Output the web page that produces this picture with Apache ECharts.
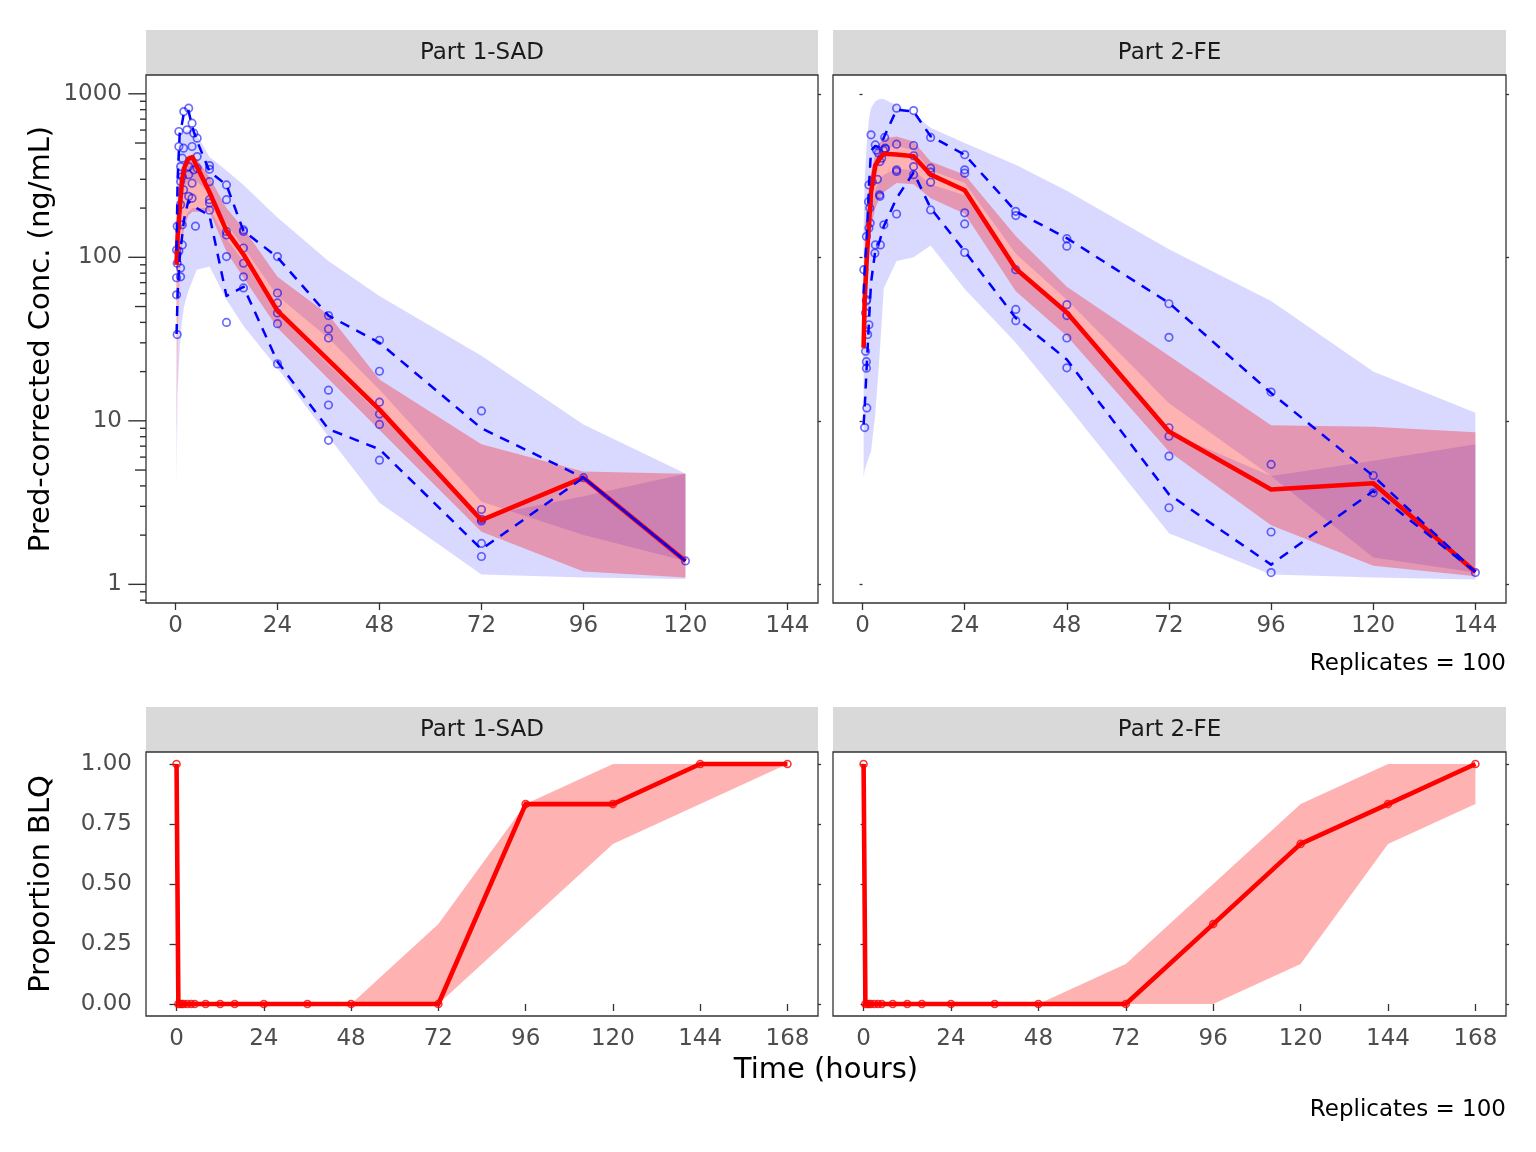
<!DOCTYPE html>
<html><head><meta charset="utf-8">
<script src="https://cdn.jsdelivr.net/npm/echarts@6/dist/echarts.min.js"></script>
<style>html,body{margin:0;padding:0;background:#fff}#c{width:1536px;height:1152px}</style>
</head><body><div id="c"></div>
<script>
// ---------------- data ----------------
const panelNames = ['Part 1-SAD', 'Part 2-FE'];
const xTopTicks = [0, 24, 48, 72, 96, 120, 144];
const xBotTicks = [0, 24, 48, 72, 96, 120, 144, 168];
const yTopLabels = [1, 10, 100, 1000];
const yTopLogTicks = [0.8, 0.9, 1, 2, 3, 4, 5, 6, 7, 8, 9, 10, 20, 30, 40, 50, 60, 70, 80, 90, 100, 200, 300, 400, 500, 600, 700, 800, 900, 1000];
const yBotTicks = [0, 0.25, 0.5, 0.75, 1];

// Part 1-SAD simulated CI bands and observed percentiles
const sadBinT  = [0.25, 0.5, 1, 1.5, 2, 3, 4, 5, 8, 12, 16, 24, 36, 48, 72, 96, 120];
const sadLo5   = [4, 15, 28, 40, 50, 62, 72, 84, 88, 55, 38, 21, 8, 3.15, 1.15, 1.1, 1.08];
const sadHi5   = [10, 40, 90, 140, 170, 190, 200, 200, 200, 130, 95, 45, 22, 11, 2.6, 3.46, 4.75];
const sadLo50  = [8, 35, 80, 120, 150, 180, 190, 190, 190, 108, 75, 37, 18, 8.8, 2.1, 1.2, 1.1];
const sadHi50  = [90, 170, 260, 330, 380, 420, 420, 400, 310, 200, 150, 76, 44.6, 17.9, 7.2, 4.9, 4.75];
const sadLo95  = [40, 90, 150, 210, 260, 300, 310, 290, 250, 160, 115, 58, 32, 15.5, 3.2, 2.0, 1.39];
const sadHi95  = [250, 450, 520, 560, 580, 600, 590, 560, 410, 340, 277, 175, 95, 58, 25, 9.5, 4.77];
const sadObs5  = [34, 60, 100, 130, 170, 220, 210, 200, 180, 58, 66, 23, 8.9, 6.7, 1.64, 4.49, 1.39];
const sadObs50 = [90, 135, 200, 290, 350, 400, 410, 360, 250, 145, 104, 47, 23.5, 11.7, 2.47, 4.49, 1.39];
const sadObs95 = [110, 300, 580, 650, 770, 800, 620, 520, 335, 277, 145, 100, 44, 30, 9, 4.49, 1.39];
const sadPtT = [0.25, 0.25, 0.25, 0.4, 0.4, 0.4, 0.8, 0.8, 0.8, 1.2, 1.2, 1.2, 1.2, 1.2, 1.6, 1.6, 1.6, 1.6, 1.9, 1.9, 1.95, 2.7, 3.1, 3.1, 3.1, 3.1, 3.9, 3.9, 3.9, 3.9, 4.3, 4.3, 4.7, 5.1, 5.1, 5.1,
  8, 8, 8, 8, 8, 8, 12, 12, 12, 12, 12, 12, 16, 16, 16, 16, 16, 16, 24, 24, 24, 24, 24, 24, 36, 36, 36, 36, 36, 36,
  48, 48, 48, 48, 48, 48, 72, 72, 72, 72, 72, 72, 96, 120];
const sadPtC = [111, 75, 59, 155, 92, 33.7, 588, 476, 109, 359, 291, 210, 86, 76, 404, 312, 158, 119, 465, 259, 778, 602, 817, 359, 320, 236, 661, 476, 284, 230, 574, 343, 155, 535, 413, 351,
  364, 345, 290, 225, 215, 194, 277, 225, 144, 137, 101, 40, 147, 144, 114, 92, 76, 65, 101, 60.5, 52.6, 45.7, 39.3, 22.3, 44, 36.5, 32.1, 15.4, 12.5, 7.6,
  31.1, 20.1, 13, 11, 9.5, 5.75, 11.5, 2.87, 2.5, 2.44, 1.78, 1.48, 4.49, 1.39];

// Part 2-FE
const feBinT  = [0.25, 0.5, 1, 1.5, 2, 3, 4, 5, 8, 12, 16, 24, 36, 48, 72, 96, 120, 144];
const feLo5   = [4.5, 5, 5.5, 6, 6.5, 11, 25, 65, 95, 100, 118, 64, 30, 12.5, 2.05, 1.15, 1.1, 1.07];
const feHi5   = [24, 45, 85, 140, 190, 260, 300, 320, 350, 340, 280, 240, 85, 46, 8.5, 4.6, 5.7, 7.2];
const feLo50  = [20, 35, 70, 110, 150, 200, 230, 250, 285, 280, 230, 185, 62, 33, 6.5, 2.3, 1.3, 1.12];
const feHi50  = [35, 70, 140, 230, 330, 430, 500, 535, 548, 510, 385, 320, 135, 66, 25, 9.4, 9.2, 8.5];
const feLo95  = [28, 55, 110, 180, 260, 350, 420, 460, 480, 450, 340, 285, 105, 55, 12.8, 4.6, 1.46, 1.18];
const feHi95  = [150, 300, 500, 700, 820, 900, 930, 930, 850, 750, 620, 500, 368, 255, 112, 54, 20, 11.2];
const feObs5  = [9.5, 12, 22, 40, 70, 110, 125, 155, 230, 330, 200, 109, 42.6, 23.7, 3.55, 1.32, 3.72, 1.19];
const feObs50 = [28, 55, 100, 160, 250, 365, 400, 430, 425, 415, 320, 257, 85, 46, 8.6, 3.8, 4.15, 1.19];
const feObs95 = [60, 84, 135, 270, 450, 480, 470, 540, 800, 780, 550, 424, 191, 131, 52.6, 14.8, 4.6, 1.19];
const fePtT = [0.3, 0.5, 0.7, 0.7, 0.9, 0.9, 0.9, 0.9, 1.0, 1.0, 1.2, 1.4, 1.5, 1.5, 1.5, 1.7, 1.8, 2.0, 2.3, 2.9, 3.0, 3.0, 3.3, 3.5, 3.7, 4.0, 4.1, 4.1, 4.2, 4.5, 4.9, 5.0, 5.2, 5.3, 5.4,
  8, 8, 8, 8, 8, 12, 12, 12, 12, 12, 16, 16, 16, 16, 16, 24, 24, 24, 24, 24, 24, 36, 36, 36, 36, 36,
  48, 48, 48, 48, 48, 48, 72, 72, 72, 72, 72, 72, 96, 96, 96, 96, 120, 120, 144];
const fePtC = [84, 9.1, 45.7, 26.6, 134, 54, 23, 21, 12, 55, 33.7, 219, 277, 151, 38.7, 200, 162, 561, 290, 106, 487, 119, 452, 300, 435, 241, 236, 385, 119, 404, 452, 158, 541, 465, 461,
  817, 492, 343, 335, 184, 790, 483, 418, 359, 320, 541, 351, 332, 288, 195, 424, 343, 327, 187, 160, 107, 191, 180, 84, 48, 41,
  130, 117, 51.3, 44, 32.1, 21.1, 52, 32.4, 9.07, 8.05, 6.08, 2.94, 15, 5.41, 2.09, 1.18, 4.63, 3.63, 1.18];

// BLQ panels
const blqT = [0, 0.5, 1, 1.5, 2, 3, 4, 5, 8, 12, 16, 24, 36, 48, 72, 96, 120, 144, 168];
const sadBlqObs = [1, 0, 0, 0, 0, 0, 0, 0, 0, 0, 0, 0, 0, 0, 0, 0.833, 0.833, 1, 1];
const sadBlqLo  = [1, 0, 0, 0, 0, 0, 0, 0, 0, 0, 0, 0, 0, 0, 0, 0.333, 0.667, 0.833, 1];
const sadBlqHi  = [1, 0, 0, 0, 0, 0, 0, 0, 0, 0, 0, 0, 0, 0, 0.333, 0.833, 1, 1, 1];
const feBlqObs  = [1, 0, 0, 0, 0, 0, 0, 0, 0, 0, 0, 0, 0, 0, 0, 0.333, 0.667, 0.833, 1];
const feBlqLo   = [1, 0, 0, 0, 0, 0, 0, 0, 0, 0, 0, 0, 0, 0, 0, 0, 0.167, 0.667, 0.833];
const feBlqHi   = [1, 0, 0, 0, 0, 0, 0, 0, 0, 0, 0, 0, 0, 0, 0.167, 0.5, 0.833, 1, 1];

// ---------------- chart ----------------
const FONT = 'DejaVu Sans';
const TOPX = [-6.94, 151.19], BOTX = [-8.4, 176.4];
const TOPY = [0.769, 1303], BOTY = [-0.05, 1.05];
const G = [
  {left: 146, top: 75, width: 672, height: 528},
  {left: 833, top: 75, width: 673, height: 528},
  {left: 146, top: 752, width: 672, height: 264},
  {left: 833, top: 752, width: 673, height: 264}
];
const zip = (a, b) => a.map((v, i) => [v, b[i]]);
const tickStyle = {color: '#333', width: 1.3};
const labStyle = {fontSize: 23, color: '#4d4d4d', fontFamily: FONT};

function xAx(gi, top) {
  const ticks = top ? xTopTicks : xBotTicks;
  const r = top ? TOPX : BOTX;
  return {type: 'value', gridIndex: gi, min: r[0], max: r[1], splitLine: {show: false},
    axisLine: {show: false},
    axisTick: {show: true, customValues: ticks, length: 7, lineStyle: tickStyle},
    axisLabel: Object.assign({show: true, customValues: ticks, margin: 12}, labStyle)};
}
function yAx(gi, top, pos, labelled) {
  const r = top ? TOPY : BOTY;
  const ticks = top ? yTopLabels : yBotTicks;
  const ax = {type: top ? 'log' : 'value', gridIndex: gi, position: pos, min: r[0], max: r[1],
    splitLine: {show: false}, axisLine: {show: false}};
  if (top) ax.logBase = 10;
  if (labelled) {
    ax.axisTick = top ? {show: false} : {show: true, customValues: ticks, length: 7, lineStyle: tickStyle};
    ax.axisLabel = Object.assign({show: true, customValues: ticks, margin: top ? 24 : 14,
      formatter: top ? (v => String(Math.round(v))) : (v => Number(v).toFixed(2))}, labStyle);
  } else {
    ax.axisTick = {show: true, customValues: ticks, length: 3, lineStyle: tickStyle};
    ax.axisLabel = {show: false};
  }
  return ax;
}

function band(xi, yi, T, lo, hi, color) {
  return {type: 'custom', xAxisIndex: xi, yAxisIndex: yi, silent: true, animation: false,
    data: [[T[0], hi[0]]],
    renderItem: function (params, api) {
      const pts = [];
      for (let i = 0; i < T.length; i++) pts.push(api.coord([T[i], hi[i]]));
      for (let i = T.length - 1; i >= 0; i--) pts.push(api.coord([T[i], lo[i]]));
      return {type: 'polygon', shape: {points: pts}, style: {fill: color}};
    }};
}
function line(xi, yi, T, V, color, width, dashed) {
  return {type: 'line', xAxisIndex: xi, yAxisIndex: yi, data: zip(T, V), symbol: 'none', silent: true,
    lineStyle: {color: color, width: width, type: dashed ? [10, 8] : 'solid', join: 'round'}, animation: false};
}
function points(xi, yi, T, V) {
  return {type: 'scatter', xAxisIndex: xi, yAxisIndex: yi, data: zip(T, V), symbol: 'circle', symbolSize: 7.5,
    silent: true, animation: false,
    itemStyle: {color: 'rgba(0,0,0,0)', borderColor: 'rgba(0,0,255,0.72)', borderWidth: 1.7}};
}

const BLUE = 'rgba(0,0,255,0.15)', RED = 'rgba(255,0,0,0.3)';
const series = [];
const topData = [
  {xi: 0, yi: 0, T: sadBinT, lo5: sadLo5, hi5: sadHi5, lo50: sadLo50, hi50: sadHi50, lo95: sadLo95, hi95: sadHi95, o5: sadObs5, o50: sadObs50, o95: sadObs95, pT: sadPtT, pC: sadPtC},
  {xi: 1, yi: 2, T: feBinT, lo5: feLo5, hi5: feHi5, lo50: feLo50, hi50: feHi50, lo95: feLo95, hi95: feHi95, o5: feObs5, o50: feObs50, o95: feObs95, pT: fePtT, pC: fePtC}
];
topData.forEach(d => {
  series.push(band(d.xi, d.yi, d.T, d.lo5, d.hi5, BLUE));
  series.push(band(d.xi, d.yi, d.T, d.lo95, d.hi95, BLUE));
  series.push(band(d.xi, d.yi, d.T, d.lo50, d.hi50, RED));
  series.push(line(d.xi, d.yi, d.T, d.o50, '#ff0000', 4.6, false));
  series.push(line(d.xi, d.yi, d.T, d.o5, '#0000ff', 2.5, true));
  series.push(line(d.xi, d.yi, d.T, d.o95, '#0000ff', 2.5, true));
  series.push(points(d.xi, d.yi, d.pT, d.pC));
});
const botData = [
  {xi: 2, yi: 4, obs: sadBlqObs, lo: sadBlqLo, hi: sadBlqHi},
  {xi: 3, yi: 6, obs: feBlqObs, lo: feBlqLo, hi: feBlqHi}
];
botData.forEach(d => {
  series.push(band(d.xi, d.yi, blqT, d.lo, d.hi, RED));
  series.push({type: 'line', xAxisIndex: d.xi, yAxisIndex: d.yi, data: zip(blqT, d.obs), silent: true, animation: false,
    symbol: 'circle', symbolSize: 7, showAllSymbol: true,
    itemStyle: {color: 'rgba(255,255,255,0)', borderColor: 'rgba(255,0,0,0.8)', borderWidth: 1.6},
    lineStyle: {color: '#ff0000', width: 4.6, join: 'round'}});
});
// log tick marks (annotation) on the left axis of the first panel
series.push({type: 'custom', xAxisIndex: 0, yAxisIndex: 0, silent: true, animation: false, clip: false,
  data: yTopLogTicks.map(v => [TOPX[0], v]),
  renderItem: function (params, api) {
    const v = api.value(1);
    const p = api.coord([api.value(0), v]);
    const m = v / Math.pow(10, Math.floor(Math.log10(v) + 1e-9));
    const len = Math.abs(m - 1) < 1e-6 ? 17.7 : (Math.abs(m - 5) < 1e-6 ? 11 : 6);
    return {type: 'line', shape: {x1: p[0] - len, y1: p[1], x2: p[0], y2: p[1]}, style: {stroke: '#333', lineWidth: 1.4}};
  }});

const graphics = [];
G.forEach((g, i) => {
  const sy = i < 2 ? 30 : 707;
  graphics.push({type: 'rect', z: 50, shape: {x: g.left, y: sy, width: g.width, height: 45}, style: {fill: '#d9d9d9'}});
  graphics.push({type: 'text', z: 51, x: g.left + g.width / 2, y: sy + 23,
    style: {text: panelNames[i % 2], font: '23px "' + FONT + '"', fill: '#1a1a1a', align: 'center', verticalAlign: 'middle', textAlign: 'center', textVerticalAlign: 'middle'}});
  graphics.push({type: 'rect', z: 100, shape: {x: g.left, y: g.top, width: g.width, height: g.height},
    style: {fill: 'none', stroke: '#333', lineWidth: 1.3}});
});
const txt = (t, x, y, size, color, align, rot) => ({type: 'text', z: 60, x: x, y: y, rotation: rot || 0,
  style: {text: t, font: size + 'px "' + FONT + '"', fill: color, align: align, verticalAlign: 'middle', textAlign: align, textVerticalAlign: 'middle'}});
graphics.push(txt('Pred-corrected Conc. (ng/mL)', 41, 339, 29, '#000', 'center', Math.PI / 2));
graphics.push(txt('Proportion BLQ', 41, 884, 29, '#000', 'center', Math.PI / 2));
graphics.push(txt('Time (hours)', 826, 1070, 29, '#000', 'center'));
graphics.push(txt('Replicates = 100', 1506, 664, 23, '#000', 'right'));
graphics.push(txt('Replicates = 100', 1506, 1110, 23, '#000', 'right'));

const option = {
  animation: false,
  backgroundColor: '#ffffff',
  textStyle: {fontFamily: FONT},
  grid: G.map(g => Object.assign({show: false, containLabel: false}, g)),
  xAxis: [xAx(0, true), xAx(1, true), xAx(2, false), xAx(3, false)],
  yAxis: [
    yAx(0, true, 'left', true), yAx(0, true, 'right', false),
    yAx(1, true, 'left', false), yAx(1, true, 'right', false),
    yAx(2, false, 'left', true), yAx(2, false, 'right', false),
    yAx(3, false, 'left', false), yAx(3, false, 'right', false)
  ],
  series: series,
  graphic: {elements: graphics}
};
const chart = echarts.init(document.getElementById('c'));
chart.setOption(option);
</script>
</body></html>
